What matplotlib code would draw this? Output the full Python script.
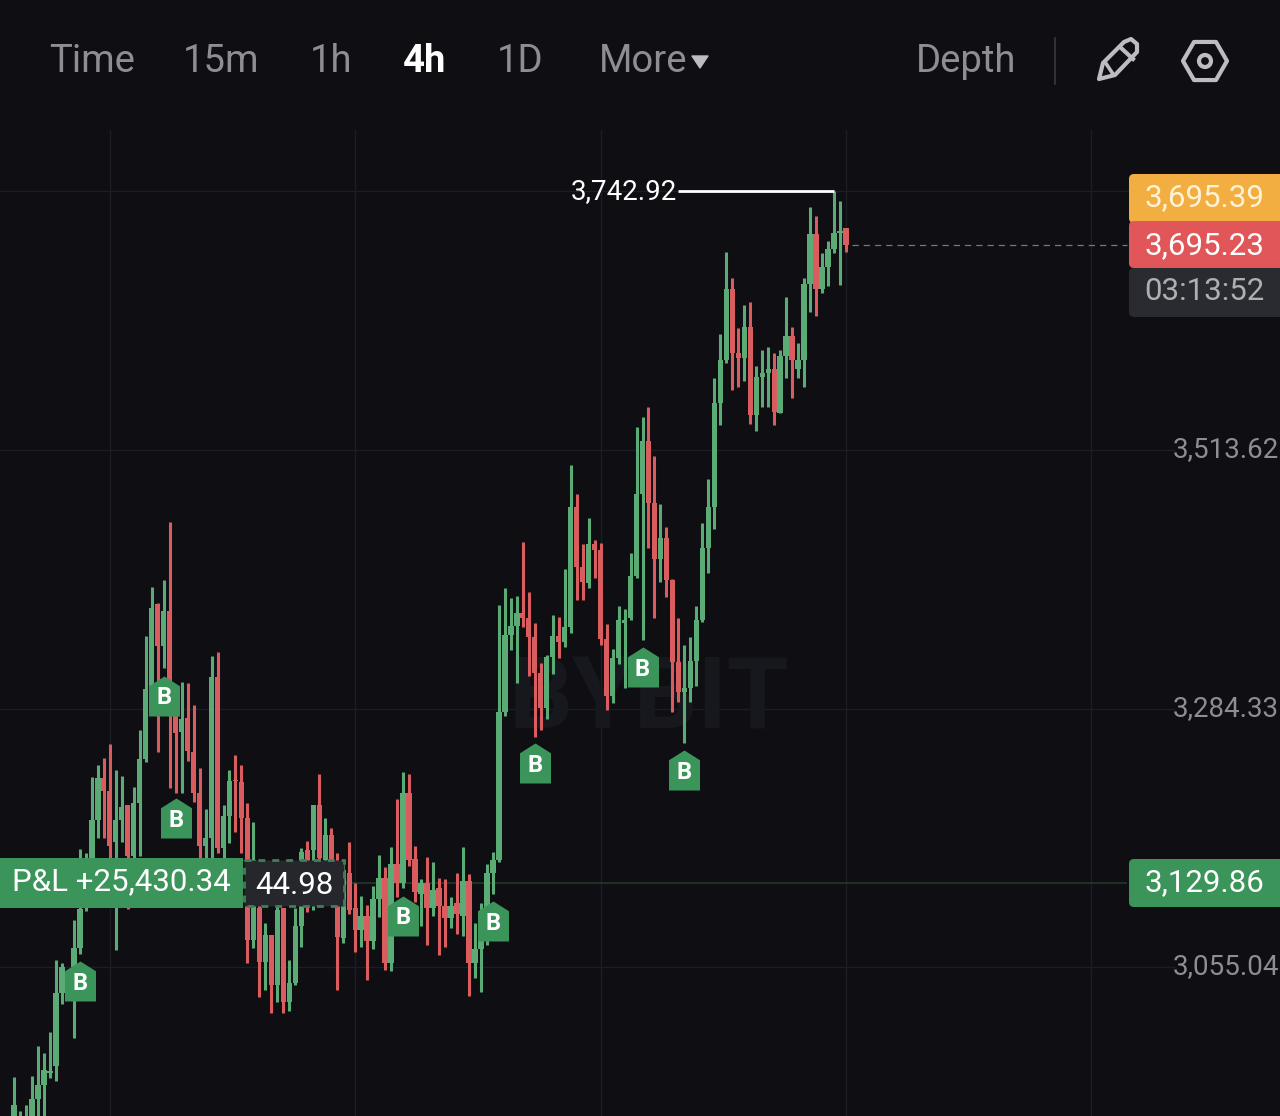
import matplotlib
matplotlib.use('Agg')
import matplotlib.pyplot as plt
from matplotlib.path import Path
from matplotlib.patches import Rectangle, RegularPolygon, Circle, Polygon, FancyBboxPatch

# candles, oldest first
opens = [2915, 2915, 2915, 2915, 2938, 2951, 2961, 2968, 3032, 3031,
         3055, 3072, 3110, 3152, 3186, 3223, 3211, 3166, 3186, 3199,
         3154, 3201, 3240, 3302, 3377, 3340, 3371, 3278, 3264, 3276,
         3246, 3210, 3163, 3170, 3312, 3161, 3189, 3221, 3219, 3187,
         3079, 3108, 3060, 3084, 3039, 3108, 3024, 3041, 3092, 3159,
         3159, 3199, 3150, 3172, 3141, 3081, 3139, 3108, 3088, 3101,
         3078, 3116, 3134, 3059, 3147, 3130, 3210, 3151, 3120, 3130,
         3108, 3125, 3109, 3099, 3112, 3101, 3132, 3059, 3071, 3079,
         3139, 3150, 3281, 3350, 3358, 3369, 3365, 3348, 3316, 3285,
         3330, 3349, 3343, 3357, 3463, 3410, 3396, 3430, 3425, 3346,
         3296, 3329, 3360, 3365, 3402, 3475, 3522, 3467, 3417, 3436,
         3398, 3326, 3299, 3303, 3327, 3363, 3427, 3463, 3555, 3593,
         3656, 3600, 3595, 3623, 3545, 3578, 3582, 3585, 3546, 3597,
         3615, 3585, 3593, 3661, 3705, 3656, 3676, 3692, 3706, 3710]
highs = [2958, 2928, 2933, 2959, 2985, 2979, 2998, 3062, 3059, 3048,
         3097, 3160, 3156, 3224, 3234, 3241, 3253, 3230, 3225, 3199,
         3215, 3265, 3349, 3392, 3378, 3398, 3450, 3301, 3308, 3307,
         3288, 3232, 3195, 3331, 3335, 3199, 3230, 3243, 3234, 3201,
         3184, 3141, 3094, 3084, 3109, 3108, 3062, 3108, 3161, 3167,
         3199, 3226, 3187, 3179, 3156, 3150, 3166, 3130, 3118, 3110,
         3127, 3155, 3144, 3162, 3204, 3228, 3226, 3163, 3133, 3153,
         3148, 3134, 3133, 3117, 3139, 3162, 3138, 3094, 3112, 3147,
         3157, 3376, 3391, 3382, 3384, 3432, 3388, 3360, 3325, 3332,
         3367, 3366, 3408, 3500, 3475, 3430, 3453, 3434, 3431, 3359,
         3337, 3375, 3373, 3422, 3534, 3543, 3552, 3508, 3466, 3445,
         3399, 3365, 3341, 3348, 3375, 3449, 3488, 3577, 3616, 3689,
         3666, 3622, 3642, 3645, 3588, 3602, 3605, 3600, 3602, 3649,
         3623, 3608, 3666, 3729, 3721, 3688, 3699, 3742.92, 3734, 3710]
lows = [2911, 2911, 2911, 2911, 2915, 2923, 2957, 2954, 3023, 3026,
        2992, 3067, 3105, 3115, 3170, 3170, 3152, 3070, 3166, 3107,
        3150, 3154, 3237, 3292, 3246, 3320, 3214, 3210, 3210, 3238,
        3202, 3152, 3152, 3152, 3156, 3152, 3165, 3175, 3156, 3059,
        3072, 3029, 3035, 3015, 3024, 3015, 3016, 3039, 3073, 3104,
        3106, 3115, 3141, 3141, 3035, 3077, 3102, 3069, 3073, 3044,
        3071, 3100, 3053, 3052, 3117, 3125, 3145, 3113, 3092, 3075,
        3101, 3066, 3073, 3090, 3085, 3083, 3030, 3046, 3033, 3075,
        3120, 3148, 3278, 3336, 3307, 3357, 3313, 3259, 3265, 3275,
        3315, 3329, 3339, 3351, 3381, 3381, 3391, 3400, 3341, 3283,
        3289, 3324, 3303, 3363, 3400, 3345, 3427, 3365, 3397, 3383,
        3281, 3290, 3254, 3290, 3304, 3361, 3405, 3444, 3536, 3591,
        3567, 3569, 3575, 3537, 3530, 3552, 3552, 3536, 3546, 3577,
        3560, 3577, 3569, 3636, 3632, 3653, 3659, 3688, 3660, 3689]
closes = [2933, 2922, 2923, 2938, 2951, 2964, 2963, 3032, 3055, 3044,
          3072, 3107, 3152, 3186, 3223, 3211, 3163, 3186, 3197, 3154,
          3201, 3240, 3302, 3374, 3340, 3371, 3311, 3263, 3275, 3247,
          3210, 3163, 3170, 3312, 3161, 3189, 3220, 3220, 3187, 3079,
          3150, 3060, 3084, 3039, 3106, 3024, 3041, 3092, 3157, 3110,
          3199, 3152, 3172, 3150, 3082, 3141, 3106, 3088, 3101, 3078,
          3116, 3134, 3059, 3147, 3130, 3210, 3150, 3122, 3130, 3108,
          3124, 3109, 3099, 3109, 3102, 3132, 3059, 3071, 3079, 3139,
          3150, 3281, 3350, 3358, 3369, 3365, 3348, 3316, 3285, 3330,
          3349, 3343, 3357, 3463, 3410, 3397, 3430, 3425, 3346, 3296,
          3329, 3363, 3363, 3402, 3475, 3522, 3467, 3417, 3436, 3398,
          3326, 3299, 3303, 3327, 3363, 3427, 3463, 3555, 3593, 3656,
          3600, 3595, 3623, 3545, 3578, 3582, 3585, 3547, 3597, 3615,
          3593, 3593, 3661, 3705, 3656, 3676, 3692, 3706, 3708, 3695.23]

# buy markers: candle index and price at the middle of the badge
buy_idx = [11, 25, 27, 65, 80, 87, 105, 112]
buy_price = [3043, 3296, 3187, 3101, 3096, 3236, 3321, 3230]

axis_ticks = [3513.62, 3284.33, 3055.04]
grid_prices = [3742.92, 3513.62, 3284.33, 3055.04]
grid_idx = [16, 57, 98, 139, 180]
high_price = 3742.92
high_idx = 137
last_price = 3695.23
mark_price = 3129.86

BG = '#0e0e13'
GRID = '#1d1e24'
GREEN = '#5aab76'
RED = '#d95c5e'
BADGE = '#3b9459'
GREY = '#8d8e92'
ICON = '#bcbdc1'
FONT = ['Roboto', 'DejaVu Sans']

plt.rcParams['font.family'] = FONT
fig = plt.figure(figsize=(12.8, 11.16), dpi=100, facecolor=BG)

ax = fig.add_axes([0, 0, 1, 1])
ax.set_facecolor(BG)
ax.set_xlim(-2.34, 211.5)
ax.set_ylim(2923.3, 3912.45)
ax.axis('off')

top_of_grid = 3797
ax.vlines(grid_idx, 2923.3, top_of_grid, color=GRID, lw=1, zorder=1)
ax.hlines(grid_prices, -2.34, 194, color=GRID, lw=1, zorder=1)
ax.text(106, 3291, 'BYBIT', color='#17181d', fontsize=72, fontweight='bold',
        ha='center', va='center', zorder=1.5)

for i in range(len(opens)):
    c = GREEN if closes[i] >= opens[i] else RED
    ax.vlines(i, lows[i], highs[i], color=c, lw=2.2, zorder=2)
    ax.bar(i, abs(closes[i] - opens[i]), bottom=min(opens[i], closes[i]),
           width=0.9, color=c, zorder=2)

# high marker and last price line
ax.hlines(high_price, 111, high_idx, color='white', lw=2, zorder=3)
ax.text(110.8, high_price, '3,742.92', color='white', fontsize=20, ha='right', va='center', zorder=3)
ax.hlines(last_price, 140, 186, color='#77787c', lw=0.9, linestyles=(0, (5, 4)), zorder=2)
ax.hlines(mark_price, 55, 186, color='#1f3a2a', lw=1.2, zorder=1.8)

house = Path([(-0.5, -0.645), (-0.5, 0.33), (0, 0.645), (0.5, 0.33), (0.5, -0.645), (-0.5, -0.645)], closed=True)
ax.scatter(buy_idx, buy_price, marker=house, s=830, color=BADGE, linewidths=0, zorder=4)
for i, p in zip(buy_idx, buy_price):
    ax.text(i, p - 2, 'B', color='white', fontsize=17, fontweight='bold', ha='center', va='center', zorder=5)

# y axis labels
ytrans = ax.get_yaxis_transform()
for p in axis_ticks:
    ax.text(1173 / 1280, p + 0.5, f'{p:,.2f}', color=GREY, fontsize=20, ha='left', va='center',
            transform=ytrans, zorder=3)

# overlay in pixels for the app chrome
ui = fig.add_axes([0, 0, 1, 1])
ui.set_xlim(0, 1280)
ui.set_ylim(1116, 0)
ui.axis('off')
ui.patch.set_alpha(0)


def box(x0, y0, x1, y1, color, r=5):
    ui.add_patch(FancyBboxPatch((x0 + r, y0 + r), x1 - x0 - 2 * r, y1 - y0 - 2 * r,
                                boxstyle=f'round,pad={r},rounding_size={r}', facecolor=color, edgecolor='none'))


# toolbar
for label, x, col, w in [('Time', 49, GREY, 'normal'), ('15m', 183, GREY, 'normal'), ('1h', 310, GREY, 'normal'),
                         ('4h', 403, 'white', 'bold'), ('1D', 497, GREY, 'normal'), ('More', 599, GREY, 'normal'),
                         ('Depth', 916, GREY, 'normal')]:
    ui.text(x, 61, label, color=col, fontsize=27.5, fontweight=w, ha='left', va='center')
ui.add_patch(Polygon([(692, 56), (708, 56), (700, 68)], closed=True, facecolor=ICON, edgecolor=ICON,
                     lw=1, joinstyle='round'))
ui.plot([1055, 1055], [38, 84], color='#3a3b40', lw=1.2)

# pencil
ui.add_patch(Polygon([(1099, 79), (1103, 63), (1124, 42), (1131, 39), (1137, 44), (1137, 52), (1115, 75)], closed=True,
                     facecolor='none', edgecolor=ICON, lw=3, joinstyle='round'))
ui.plot([1120, 1133], [47, 59], color=ICON, lw=3)
ui.plot([1105, 1113], [62, 74], color=ICON, lw=2.6)
# settings hexagon
ui.add_patch(RegularPolygon((1205, 61), 6, radius=22, orientation=0.5236, facecolor='none', edgecolor=ICON,
                            lw=3, joinstyle='round'))
ui.add_patch(Circle((1205, 61), 6, facecolor='none', edgecolor=ICON, lw=3))

# right side price boxes
box(1129, 174, 1300, 223, '#f2ae40')
ui.text(1204, 198, '3,695.39', color='#fff3d6', fontsize=22.5, ha='center', va='center')
box(1129, 268, 1300, 317, '#2a2b31')
box(1129, 221, 1300, 268, '#e05659')
ui.text(1204, 246, '3,695.23', color='white', fontsize=22.5, ha='center', va='center')
ui.text(1204, 292, '03:13:52', color='#aeafb2', fontsize=22.5, ha='center', va='center')
box(1129, 859, 1300, 907, BADGE)
ui.text(1204, 883, '3,129.86', color='white', fontsize=22.5, ha='center', va='center')

# position label
ui.add_patch(Rectangle((0, 858), 243, 50, facecolor=BADGE, edgecolor='none'))
ui.text(12, 882, 'P&L +25,430.34', color='white', fontsize=22.5, ha='left', va='center')
ui.add_patch(Rectangle((244, 860), 100, 46, facecolor='#26272c', edgecolor='#3f8058', lw=2, linestyle=(0, (2.5, 2.5))))
ui.text(294, 885, '44.98', color='white', fontsize=22.5, ha='center', va='center')

fig.savefig('out.png', dpi=100, facecolor=BG)
